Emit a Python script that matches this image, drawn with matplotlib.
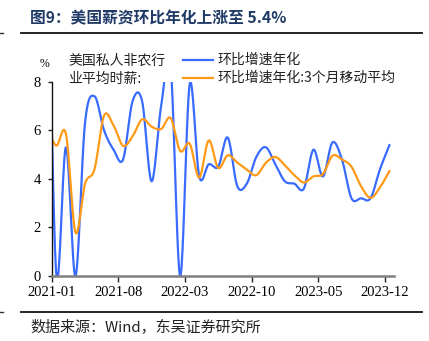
import numpy as np
import matplotlib
matplotlib.use("Agg")
import matplotlib.pyplot as plt
from matplotlib.lines import Line2D

SERIF = 'Liberation Serif'
CJK = ['Noto Sans CJK SC', 'Liberation Serif', 'DejaVu Sans']

# monthly data, 2020-11 .. 2023-12 (values in %)
months = ['2020-11', '2020-12',
          '2021-01', '2021-02', '2021-03', '2021-04', '2021-05', '2021-06',
          '2021-07', '2021-08', '2021-09', '2021-10', '2021-11', '2021-12',
          '2022-01', '2022-02', '2022-03', '2022-04', '2022-05', '2022-06',
          '2022-07', '2022-08', '2022-09', '2022-10', '2022-11', '2022-12',
          '2023-01', '2023-02', '2023-03', '2023-04', '2023-05', '2023-06',
          '2023-07', '2023-08', '2023-09', '2023-10', '2023-11', '2023-12']
mom_annualized = [3.9, 12.2,
                  0.0, 5.3, 0.0, 6.3, 7.4, 6.0,
                  5.2, 4.8, 7.2, 7.2, 3.9, 7.0,
                  8.6, 0.0, 7.9, 4.1, 4.6, 4.5,
                  5.7, 3.7, 3.8, 4.9, 5.3, 4.6,
                  3.9, 3.8, 3.6, 5.2, 4.1, 5.5,
                  4.8, 3.2, 3.2, 3.2, 4.4, 5.4]
mom_annualized_3m = [5.0, 5.9,
                     5.37, 5.84, 1.79, 3.8, 4.4, 6.6,
                     6.2, 5.36, 5.75, 6.45, 6.15, 6.05,
                     6.5, 5.15, 5.45, 4.05, 5.58, 4.45,
                     4.97, 4.67, 4.38, 4.15, 4.66, 4.9,
                     4.56, 4.15, 3.85, 4.1, 4.2, 4.95,
                     4.8, 4.5, 3.7, 3.22, 3.65, 4.33]
tick_labels = ['2021-01', '2021-08', '2022-03', '2022-10', '2023-05', '2023-12']


def smooth(x, y, n=20):
    # Catmull-Rom style smoothed line through the points
    x = np.asarray(x, float)
    y = np.asarray(y, float)
    m = np.zeros_like(y)
    m[1:-1] = (y[2:] - y[:-2]) / 2
    m[0] = y[1] - y[0]
    m[-1] = y[-1] - y[-2]
    xs, ys = [], []
    for i in range(len(x) - 1):
        t = np.linspace(0, 1, n, endpoint=False)
        h00 = 2 * t**3 - 3 * t**2 + 1
        h10 = t**3 - 2 * t**2 + t
        h01 = -2 * t**3 + 3 * t**2
        h11 = t**3 - t**2
        xs.append(x[i] + t * (x[i + 1] - x[i]))
        ys.append(h00 * y[i] + h10 * m[i] + h01 * y[i + 1] + h11 * m[i + 1])
    xs.append([x[-1]])
    ys.append([y[-1]])
    return np.concatenate(xs), np.concatenate(ys)


# month index: 0 = start of 2021-01, points sit mid-month
x = np.arange(len(months)) - 1.5

fig = plt.figure(figsize=(4.29, 3.41), dpi=100)
ax = fig.add_axes([0.1205, 0.1906, 0.7986, 0.5698])

blue = '#3A6BFF'
orange = '#FF9A16'
bx, by = smooth(x, mom_annualized)
ox, oy = smooth(x, mom_annualized_3m)
ax.plot(bx, by, color=blue, lw=1.6, solid_capstyle='round')
ax.plot(ox, oy, color=orange, lw=1.6, solid_capstyle='round')

ax.set_xlim(0, 36)
ax.set_ylim(0, 8)
ax.set_xticks(np.arange(0, 36, 7))
ax.set_xticklabels(tick_labels, family=SERIF, fontsize=10.5)
ax.set_yticks([0, 2, 4, 6, 8])
ax.set_yticklabels(['0', '2', '4', '6', '8'], family=SERIF, fontsize=10.5)
ax.tick_params(axis='x', length=4, width=1, color='#222222', pad=3)
ax.tick_params(axis='y', length=3, width=1, color='#222222', pad=5)
for s in ['top', 'right']:
    ax.spines[s].set_visible(False)
ax.spines['bottom'].set_color('#7f7f7f')
ax.spines['bottom'].set_linewidth(1.8)
ax.spines['left'].set_color('#111111')
ax.spines['left'].set_linewidth(1.0)

fig.text(45 / 429, 1 - 64 / 341, '%', family=SERIF, fontsize=8.5, ha='center', va='center')

# legend block
fig.text(68 / 429, 1 - 61 / 341, '美国私人非农行', family=CJK, fontsize=10,
         color='#222222', va='center')
fig.text(68 / 429, 1 - 79 / 341, '业平均时薪:', family=CJK, fontsize=10,
         color='#222222', va='center')
for yy, c, lab in [(60, blue, '环比增速年化'), (78, orange, '环比增速年化:3个月移动平均')]:
    fig.add_artist(Line2D([183 / 429, 213 / 429], [1 - yy / 341] * 2, color=c, lw=1.6))
    fig.text(217 / 429, 1 - yy / 341, lab, family=CJK, fontsize=10,
             color='#222222', va='center')

# header and footer
fig.text(30 / 429, 1 - 18 / 341, '图9：美国薪资环比年化上涨至 5.4%', family=CJK,
         fontsize=11.3, fontweight='bold', color='#1F3A66', va='center')
for yy in (33.3, 312.3):
    fig.add_artist(Line2D([20.7 / 429, 421.7 / 429], [1 - yy / 341] * 2,
                          color='#111111', lw=1.3))
    fig.add_artist(Line2D([0, 3 / 429], [1 - yy / 341] * 2, color='#333333', lw=1.0))
fig.text(30 / 429, 1 - 327 / 341, '数据来源：Wind，东吴证券研究所', family=CJK,
         fontsize=10.8, color='#222222', va='center')

fig.savefig('out.png', dpi=100)
